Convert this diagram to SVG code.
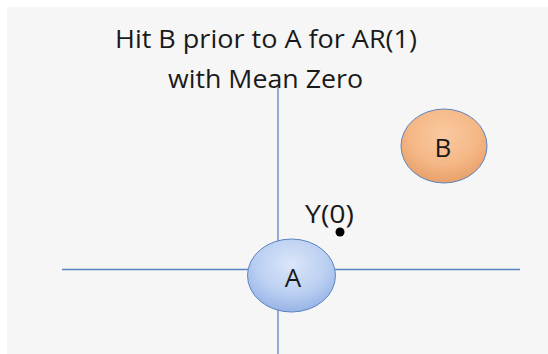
<svg xmlns="http://www.w3.org/2000/svg" width="548" height="354" viewBox="0 0 548 354">
<defs>
<radialGradient id="gA" cx="50%" cy="35%" r="65%">
<stop offset="0" stop-color="#dbe6f8"/>
<stop offset="0.6" stop-color="#bcd0f2"/>
<stop offset="1" stop-color="#98b4e6"/>
</radialGradient>
<radialGradient id="gB" cx="50%" cy="35%" r="65%">
<stop offset="0" stop-color="#f9c9a0"/>
<stop offset="0.6" stop-color="#f5b887"/>
<stop offset="1" stop-color="#e8a06a"/>
</radialGradient>
<style>
.ax{stroke:#5a84c0;stroke-width:1.3;fill:none}
.node{stroke:#5a84c0;stroke-width:1}
text{font-family:"Open Sans","Liberation Sans",sans-serif;fill:#1a1a1a;font-size:26px;text-anchor:middle}
</style>
</defs>
<rect x="0" y="0" width="548" height="354" fill="#ffffff"/>
<rect x="7" y="7" width="541" height="347" fill="#f6f6f6"/>
<g id="connectors">
<line class="ax" x1="278" y1="85" x2="278" y2="354"/>
<line class="ax" x1="62" y1="269.5" x2="520" y2="269.5"/>
</g>
<g id="title">
<text x="266" y="48" textLength="302" lengthAdjust="spacingAndGlyphs">Hit B prior to A for AR(1)</text>
<text x="265.5" y="88" textLength="195" lengthAdjust="spacingAndGlyphs">with Mean Zero</text>
</g>
<g id="nodeA">
<ellipse class="node" cx="291.5" cy="275.5" rx="44" ry="36.5" fill="url(#gA)"/>
<text x="293" y="287">A</text>
</g>
<g id="nodeB">
<ellipse class="node" cx="444" cy="146" rx="43" ry="37" fill="url(#gB)"/>
<text x="443" y="157">B</text>
</g>
<g id="y0">
<text x="329.5" y="223" textLength="49" lengthAdjust="spacingAndGlyphs">Y(0)</text>
<circle cx="340" cy="232" r="4.5" fill="#000"/>
</g>
</svg>
